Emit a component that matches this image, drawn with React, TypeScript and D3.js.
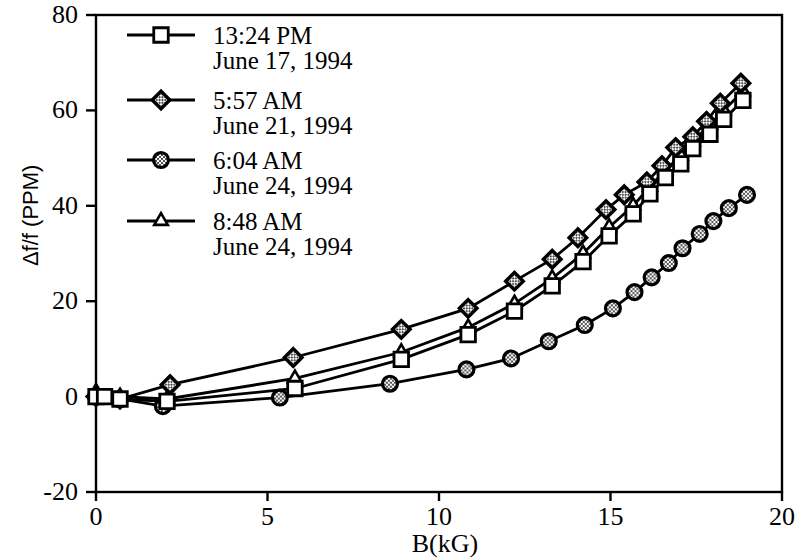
import React from 'react';
import * as d3 from 'd3';

// series: B (kG) and delta f / f (PPM)
const sqB = [0, 0.25, 0.7, 2.07, 5.8, 8.9, 10.85, 12.2, 13.3, 14.2, 14.96, 15.66, 16.15, 16.6, 17.05, 17.4, 17.9, 18.3, 18.86];
const sqF = [0, 0, -0.5, -1, 1.7, 7.8, 13, 17.9, 23.2, 28.3, 33.7, 38.3, 42.5, 45.9, 48.8, 52, 55, 58.1, 62.1];

const diB = [0, 0.7, 2.16, 5.75, 8.9, 10.85, 12.2, 13.3, 14.05, 14.87, 15.4, 16.06, 16.5, 16.9, 17.4, 17.8, 18.2, 18.8];
const diF = [0, -0.5, 2.5, 8.2, 14.1, 18.5, 24.2, 28.8, 33.3, 39.2, 42.3, 45, 48.4, 52.2, 54.5, 57.7, 61.5, 65.7];

const ciB = [0, 0.7, 1.95, 5.36, 8.57, 10.8, 12.1, 13.2, 14.25, 15.07, 15.7, 16.2, 16.7, 17.1, 17.6, 18.0, 18.45, 18.98];
const ciF = [0, -0.5, -2, -0.2, 2.7, 5.7, 8, 11.6, 15, 18.5, 21.9, 25, 28, 31.1, 34.1, 36.8, 39.5, 42.3];

const trB = [0, 0.7, 2.07, 5.8, 8.9, 10.85, 12.2, 13.3, 14.2, 14.96, 15.66, 16.15, 16.6, 17.05, 17.4, 17.9, 18.3, 18.86];
const trF = [1, 0, -0.5, 3.8, 9.3, 14.5, 19.5, 24.8, 30, 35.5, 40, 44, 47.5, 50.5, 53.5, 57, 60, 64];

const xTicks = [0, 5, 10, 15, 20];
const yTicks = [-20, 0, 20, 40, 60, 80];

const legendTimes = ['13:24 PM', '5:57 AM', '6:04 AM', '8:48 AM'];
const legendDates = ['June 17, 1994', 'June 21, 1994', 'June 24, 1994', 'June 24, 1994'];

const serif = '"Liberation Serif", "Times New Roman", serif';

const x = d3.scaleLinear().domain([0, 20]).range([96, 782]);
const y = d3.scaleLinear().domain([-20, 80]).range([492, 15]);

const zip = (b: number[], f: number[]) => b.map((v, i) => [v, f[i]] as [number, number]);

const lineGen = d3
  .line<[number, number]>()
  .x((d) => x(d[0]))
  .y((d) => y(d[1]));

const sqPath = d3.symbol(d3.symbolSquare, 210)()!;
const diPath = d3.symbol(d3.symbolSquare, 155)()!;
const ciPath = d3.symbol(d3.symbolCircle, 175)()!;
const trPath = d3.symbol(d3.symbolTriangle, 80)()!;

function Marker({ kind, cx, cy }: { kind: string; cx: number; cy: number }) {
  if (kind === 'sq')
    return <path d={sqPath} transform={`translate(${cx},${cy})`} fill="#fff" stroke="#000" strokeWidth={2.8} />;
  if (kind === 'di')
    return (
      <path d={diPath} transform={`translate(${cx},${cy}) rotate(45)`} fill="url(#chk)" stroke="#000" strokeWidth={3.4} />
    );
  if (kind === 'ci')
    return <path d={ciPath} transform={`translate(${cx},${cy})`} fill="url(#chk)" stroke="#000" strokeWidth={3.2} />;
  return <path d={trPath} transform={`translate(${cx},${cy})`} fill="#fff" stroke="#000" strokeWidth={2.6} />;
}

const series = [
  { kind: 'tr', pts: zip(trB, trF) },
  { kind: 'ci', pts: zip(ciB, ciF) },
  { kind: 'di', pts: zip(diB, diF) },
  { kind: 'sq', pts: zip(sqB, sqF) },
];

const legendKinds = ['sq', 'di', 'ci', 'tr'];
const legendY = [35, 100, 160, 221];

export default function App() {
  return (
    <svg width={795} height={559} style={{ position: 'absolute', left: 0, top: 0, background: '#fff' }}>
      <defs>
        <pattern id="chk" width={4} height={4} patternUnits="userSpaceOnUse">
          <rect width={4} height={4} fill="#555" />
          <rect width={2} height={2} fill="#fff" />
          <rect x={2} y={2} width={2} height={2} fill="#fff" />
        </pattern>
      </defs>

      {/* frame */}
      <rect x={x(0)} y={y(80)} width={x(20) - x(0)} height={y(-20) - y(80)} fill="none" stroke="#000" strokeWidth={2.4} />

      {/* y axis */}
      {yTicks.map((t) => (
        <g key={'y' + t}>
          <line x1={x(0) - 10} x2={x(0)} y1={y(t)} y2={y(t)} stroke="#000" strokeWidth={2.4} />
          <text x={x(0) - 18} y={y(t) + 8} textAnchor="end" fontFamily={serif} fontSize={26}>
            {t}
          </text>
        </g>
      ))}

      {/* x axis */}
      {xTicks.map((t) => (
        <g key={'x' + t}>
          <line x1={x(t)} x2={x(t)} y1={y(-20)} y2={y(-20) + 9} stroke="#000" strokeWidth={2.4} />
          <text x={x(t)} y={y(-20) + 33} textAnchor="middle" fontFamily={serif} fontSize={26}>
            {t}
          </text>
        </g>
      ))}

      <text x={x(10) + 6} y={552} textAnchor="middle" fontFamily={serif} fontSize={26}>
        B(kG)
      </text>
      <text
        transform={`translate(38,${y(38)}) rotate(-90)`}
        textAnchor="middle"
        fontFamily='"Liberation Sans", Arial, sans-serif'
        fontSize={22}
      >
        Δf/f (PPM)
      </text>

      {/* data */}
      {series.map((s) => (
        <g key={s.kind}>
          <path d={lineGen(s.pts)!} fill="none" stroke="#000" strokeWidth={2.8} />
          {s.pts.map((p, i) => (
            <Marker key={i} kind={s.kind} cx={x(p[0])} cy={y(p[1])} />
          ))}
        </g>
      ))}

      {/* legend */}
      {legendKinds.map((k, i) => (
        <g key={'lg' + k}>
          <line x1={127} x2={195} y1={legendY[i]} y2={legendY[i]} stroke="#000" strokeWidth={2.8} />
          <Marker kind={k} cx={161} cy={legendY[i]} />
          <text x={213} y={legendY[i] + 9} fontFamily={serif} fontSize={25}>
            {legendTimes[i]}
          </text>
          <text x={213} y={legendY[i] + 34} fontFamily={serif} fontSize={25}>
            {legendDates[i]}
          </text>
        </g>
      ))}
    </svg>
  );
}
